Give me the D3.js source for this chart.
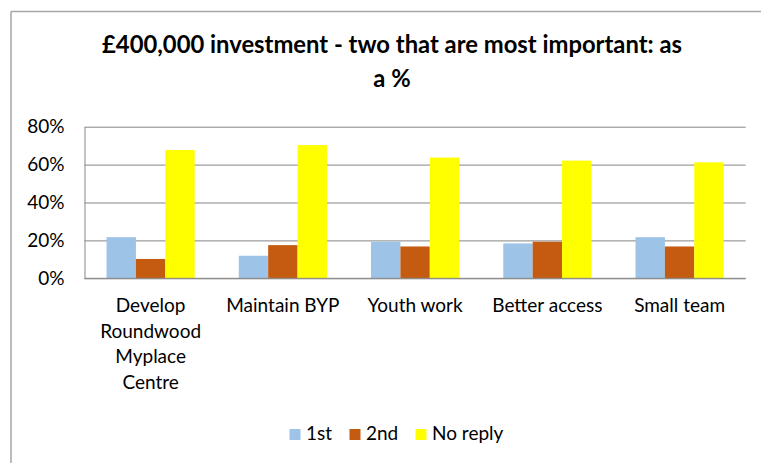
<!DOCTYPE html>
<html>
<head>
<meta charset="utf-8">
<script src="https://cdn.jsdelivr.net/npm/d3@7"></script>
<style>
  html, body { margin: 0; padding: 0; background: #fff; overflow: hidden; }
  svg { display: block; }
  text { font-family: Lato, "Open Sans", sans-serif; fill: #000; }
</style>
</head>
<body>
<svg id="chart" width="761" height="463"></svg>
<script>
// Categories and the three response series (shares of respondents)
const categories = [
  ["Develop", "Roundwood", "Myplace", "Centre"],
  ["Maintain BYP"],
  ["Youth work"],
  ["Better access"],
  ["Small team"]
];
const seriesNames = ["1st", "2nd", "No reply"];
const first   = [0.217, 0.119, 0.193, 0.184, 0.217];
const second  = [0.102, 0.175, 0.168, 0.193, 0.168];
const noReply = [0.677, 0.703, 0.637, 0.621, 0.612];
const yTicks  = [0, 0.2, 0.4, 0.6, 0.8];
const colors  = ["#9DC3E6", "#C55A11", "#FFFF00"];
const titleLines = ["£400,000 investment - two that are most important: as", "a %"];

const svg = d3.select("#chart");
const W = 761, H = 463;

// Chart frame: only the top and left edges fall inside the page
const frame = svg.append("g").attr("stroke", "#a6a6a6").attr("stroke-width", 1.5);
frame.append("line").attr("x1", 11).attr("x2", W).attr("y1", 11.5).attr("y2", 11.5);
frame.append("line").attr("x1", 11).attr("x2", 11).attr("y1", 11.5).attr("y2", H);

// Title
svg.append("g").selectAll("text")
  .data(titleLines)
  .join("text")
  .attr("x", 392)
  .attr("y", (d, i) => 53 + i * 34)
  .attr("text-anchor", "middle")
  .attr("font-weight", "bold")
  .attr("font-size", 23.8)
  .text(d => d);

const plot = { left: 84.5, right: 745.7, top: 126.7, bottom: 278.3 };

const x = d3.scaleBand()
  .domain(d3.range(categories.length))
  .range([plot.left, plot.right])
  .padding(0);

const xs = d3.scaleBand()
  .domain(d3.range(seriesNames.length))
  .range([0, x.bandwidth()])
  .paddingInner(0)
  .paddingOuter(0.75);

const y = d3.scaleLinear()
  .domain([0, 0.8])
  .range([plot.bottom, plot.top]);

// Horizontal gridlines
const grid = svg.append("g")
  .attr("transform", `translate(${plot.left},0)`)
  .call(d3.axisLeft(y).tickValues(yTicks).tickSize(-(plot.right - plot.left)).tickFormat(""));
grid.select(".domain").remove();
grid.selectAll("line").attr("stroke", "#868686").attr("stroke-width", 1);

// Bars
const values = [first, second, noReply];
const groups = svg.append("g").selectAll("g")
  .data(categories.map((c, i) => i))
  .join("g")
  .attr("transform", i => `translate(${x(i)},0)`);

groups.selectAll("rect")
  .data(i => values.map((v, s) => ({ s, v: v[i] })))
  .join("rect")
  .attr("x", d => xs(d.s))
  .attr("width", xs.bandwidth())
  .attr("y", d => y(d.v))
  .attr("height", d => y(0) - y(d.v))
  .attr("fill", d => colors[d.s]);

// Y axis
const yAxis = svg.append("g")
  .attr("transform", `translate(${plot.left},0)`)
  .call(d3.axisLeft(y).tickValues(yTicks).tickSize(0).tickPadding(20).tickFormat(d3.format(".0%")));
yAxis.select(".domain").attr("stroke", "#868686");
yAxis.selectAll("text").attr("font-size", 19).attr("font-family", "Lato, sans-serif").attr("fill", "#000");

// X axis baseline
svg.append("line")
  .attr("x1", plot.left).attr("x2", plot.right)
  .attr("y1", y(0)).attr("y2", y(0))
  .attr("stroke", "#868686");

// Category labels (multi-line)
const xl = svg.append("g").selectAll("text")
  .data(categories)
  .join("text")
  .attr("text-anchor", "middle")
  .attr("font-size", 19)
  .attr("transform", (d, i) => `translate(${x(i) + x.bandwidth() / 2},312)`);
xl.selectAll("tspan")
  .data(d => d)
  .join("tspan")
  .attr("x", 0)
  .attr("y", (d, i) => i * 25.7)
  .text(d => d);

// Legend
const legendX = [289.5, 349.5, 415.5];
const legend = svg.append("g").selectAll("g")
  .data(seriesNames)
  .join("g")
  .attr("transform", (d, i) => `translate(${legendX[i]},429)`);
legend.append("rect")
  .attr("width", 11).attr("height", 11)
  .attr("fill", (d, i) => colors[i]);
legend.append("text")
  .attr("x", 16.5).attr("y", 10.5)
  .attr("font-size", 19)
  .text(d => d);
</script>
</body>
</html>
